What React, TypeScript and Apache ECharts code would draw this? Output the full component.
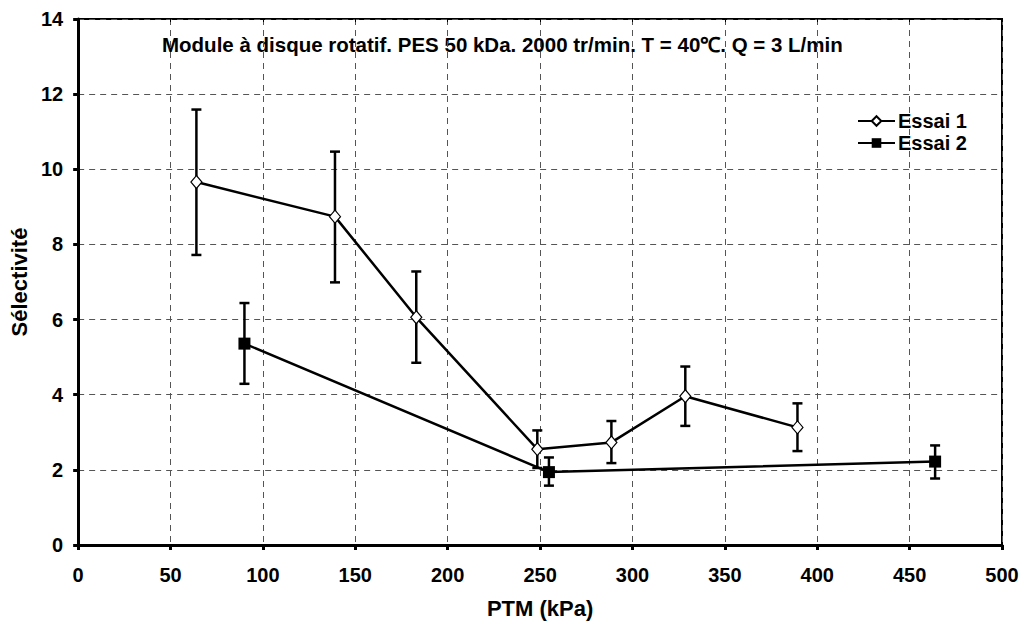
import React, { useEffect, useRef } from "react";
import * as echarts from "echarts";

const essai1X = [64, 139, 183, 248.5, 288.6, 328.6, 389.3];
const essai1Y = [9.66, 8.74, 6.06, 2.55, 2.73, 3.96, 3.13];
const essai1Low = [7.72, 6.99, 4.85, 2.05, 2.18, 3.17, 2.5];
const essai1High = [11.59, 10.47, 7.28, 3.05, 3.3, 4.75, 3.77];

const essai2X = [90, 254.8, 463.8];
const essai2Y = [5.36, 1.94, 2.22];
const essai2Low = [4.29, 1.58, 1.77];
const essai2High = [6.44, 2.33, 2.65];

const titleText = "Module à disque rotatif. PES 50 kDa. 2000 tr/min. T = 40℃. Q = 3 L/min";
const xName = "PTM (kPa)";
const yName = "Sélectivité";

const FONT = "Liberation Sans, Arial, sans-serif";

function errData(xs: number[], lo: number[], hi: number[]) {
  return xs.map((x, i) => [x, lo[i], hi[i]]);
}

const renderErr = (params: any, api: any) => {
  const x = api.value(0);
  const p1 = api.coord([x, api.value(1)]);
  const p2 = api.coord([x, api.value(2)]);
  const cap = 5;
  const style = { stroke: "#000", lineWidth: 2.5 };
  return {
    type: "group",
    children: [
      { type: "line", shape: { x1: p1[0], y1: p1[1], x2: p2[0], y2: p2[1] }, style },
      { type: "line", shape: { x1: p1[0] - cap, y1: p1[1], x2: p1[0] + cap, y2: p1[1] }, style },
      { type: "line", shape: { x1: p2[0] - cap, y1: p2[1], x2: p2[0] + cap, y2: p2[1] }, style },
    ],
  };
};

export default function App() {
  const ref = useRef<HTMLDivElement>(null);
  useEffect(() => {
    if (!ref.current) return;
    const chart = echarts.init(ref.current, undefined, { renderer: "svg" });
    const gridLine = { show: true, lineStyle: { color: "#555", type: [6, 5] as any, width: 1 } };
    const labelStyle = { fontFamily: FONT, fontWeight: "bold" as const, fontSize: 20, color: "#000" };
    chart.setOption({
      animation: false,
      textStyle: { fontFamily: FONT },
      grid: { left: 77, right: 23, top: 19, bottom: 77, show: true, borderColor: "#000", borderWidth: 2 },
      graphic: [
        {
          type: "text",
          left: 162,
          top: 34,
          style: { text: titleText, fontFamily: FONT, fontWeight: "bold", fontSize: 20.5, fill: "#000" },
        },
      ],
      legend: {
        orient: "vertical",
        left: 852,
        top: 106,
        itemWidth: 37,
        itemHeight: 12,
        itemGap: 2,
        data: ["Essai 1", "Essai 2"],
        textStyle: { ...labelStyle, padding: [0, 0, 0, -2] },
      },
      xAxis: [
        {
          type: "value",
          min: 0,
          max: 500,
          interval: 50,
          name: xName,
          nameLocation: "middle",
          nameGap: 52,
          nameTextStyle: { ...labelStyle, fontSize: 22 },
          axisLine: { show: true, lineStyle: { color: "#000", width: 3 } },
          axisTick: { show: true, length: 5, lineStyle: { color: "#000", width: 3 } },
          axisLabel: { margin: 20, ...labelStyle },
          splitLine: gridLine,
        },
        {
          type: "value",
          position: "top",
          min: 0,
          max: 500,
          interval: 50,
          axisLine: { show: false },
          axisTick: { show: true, inside: true, length: 3, lineStyle: { color: "#000", width: 1 } },
          axisLabel: { show: false },
          splitLine: { show: false },
        },
      ],
      yAxis: {
        type: "value",
        min: 0,
        max: 14,
        interval: 2,
        name: yName,
        nameLocation: "middle",
        nameGap: 43,
        nameTextStyle: { ...labelStyle, fontSize: 22 },
        axisLine: { show: true, lineStyle: { color: "#000", width: 3 } },
        axisTick: { show: true, length: 5, lineStyle: { color: "#000", width: 3 } },
        axisLabel: { margin: 15, ...labelStyle },
        splitLine: gridLine,
      },
      series: [
        {
          type: "custom",
          name: "err1",
          renderItem: renderErr,
          data: errData(essai1X, essai1Low, essai1High),
          encode: { x: 0, y: [1, 2] },
          z: 1,
        },
        {
          type: "custom",
          name: "err2",
          renderItem: renderErr,
          data: errData(essai2X, essai2Low, essai2High),
          encode: { x: 0, y: [1, 2] },
          z: 1,
        },
        {
          type: "line",
          name: "Essai 1",
          data: essai1X.map((x, i) => [x, essai1Y[i]]),
          symbol: "diamond",
          symbolSize: [11, 13],
          lineStyle: { color: "#000", width: 2.5 },
          itemStyle: { color: "#fff", borderColor: "#000", borderWidth: 1.2 },
          z: 3,
        },
        {
          type: "line",
          name: "Essai 2",
          data: essai2X.map((x, i) => [x, essai2Y[i]]),
          symbol: "rect",
          symbolSize: 12,
          lineStyle: { color: "#000", width: 2.5 },
          itemStyle: { color: "#000", borderColor: "#000", borderWidth: 0 },
          z: 3,
        },
      ],
    });
    return () => chart.dispose();
  }, []);
  return <div ref={ref} style={{ width: 1025, height: 624, position: "absolute", left: 0, top: 0 }} />;
}
